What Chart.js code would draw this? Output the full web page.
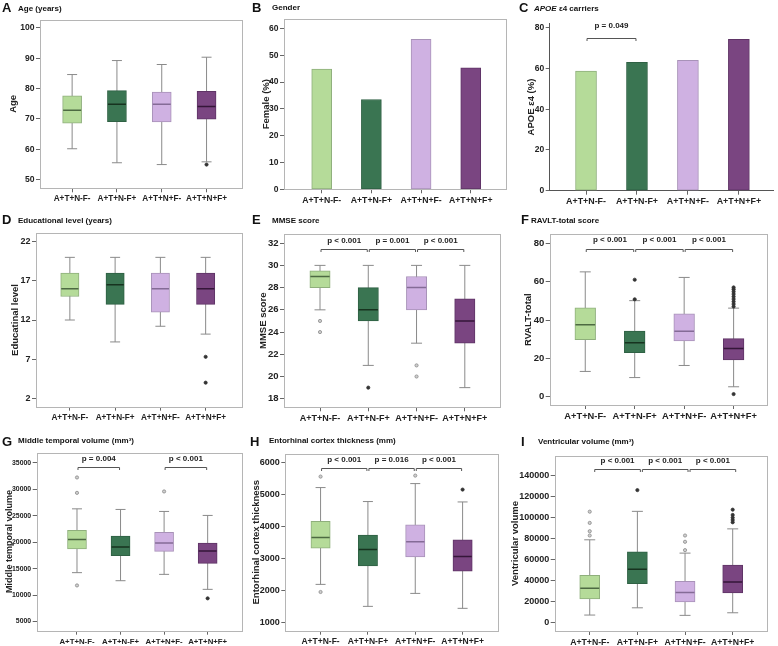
<!DOCTYPE html>
<html><head><meta charset="utf-8">
<script src="https://cdn.jsdelivr.net/npm/chart.js@4.4.1/dist/chart.umd.min.js"></script>
<style>
html,body{margin:0;padding:0;background:#fff;}
body{width:778px;height:646px;position:relative;overflow:hidden;font-family:"Liberation Sans",Arial,Helvetica,sans-serif;}
canvas{position:absolute;}
.hd{position:absolute;font-weight:bold;color:#111;white-space:nowrap;z-index:2;}
.lt{font-size:13px;line-height:13px;}
.tt{font-size:8px;line-height:8px;}
</style></head><body>
<div class="hd lt" style="left:2px;top:1px">A</div><div class="hd tt" style="left:18px;top:5px">Age (years)</div>
<div class="hd lt" style="left:252px;top:1px">B</div><div class="hd tt" style="left:272px;top:4px">Gender</div>
<div class="hd lt" style="left:519px;top:1px">C</div><div class="hd tt" style="left:534px;top:5px"><i>APOE</i> ε4 carriers</div>
<div class="hd lt" style="left:2px;top:213px">D</div><div class="hd tt" style="left:18px;top:217px">Educational level (years)</div>
<div class="hd lt" style="left:252px;top:213px">E</div><div class="hd tt" style="left:272px;top:217px">MMSE score</div>
<div class="hd lt" style="left:521px;top:213px">F</div><div class="hd tt" style="left:531px;top:217px">RAVLT-total score</div>
<div class="hd lt" style="left:2px;top:435px">G</div><div class="hd tt" style="left:18px;top:437px">Middle temporal volume (mm³)</div>
<div class="hd lt" style="left:250px;top:435px">H</div><div class="hd tt" style="left:269px;top:437px">Entorhinal cortex thickness (mm)</div>
<div class="hd lt" style="left:521px;top:435px">I</div><div class="hd tt" style="left:538px;top:438px">Ventricular volume (mm³)</div>
<script>
// ---------- data ----------
const categories = ['A+T+N-F-', 'A+T+N-F+', 'A+T+N+F-', 'A+T+N+F+'];

// A: Age
const ageTicks = [50, 60, 70, 80, 90, 100];
const ageLow  = [60.2, 55.6, 55.0, 55.9];
const ageQ1   = [68.6, 69.1, 69.0, 69.9];
const ageMed  = [72.9, 74.8, 74.8, 74.1];
const ageQ3   = [77.6, 79.3, 78.8, 79.1];
const ageHigh = [84.6, 89.2, 87.9, 90.3];
const ageOut  = [[], [], [], [55.0]];

// B: Gender
const femaleTicks = [0, 10, 20, 30, 40, 50, 60];
const femalePct = [44.8, 33.5, 55.9, 45.3];

// C: APOE e4 carriers
const apoeTicks = [0, 20, 40, 60, 80];
const apoePct = [58.7, 63.0, 64.0, 74.3];
const apoeTests = [[1, 2, 'p = 0.049']];

// D: Education
const eduTicks = [2, 7, 12, 17, 22];
const eduLow  = [12, 9.2, 11.2, 10.2];
const eduQ1   = [15, 14, 13, 14];
const eduMed  = [16, 16.5, 16, 16];
const eduQ3   = [18, 18, 18, 18];
const eduHigh = [20, 20, 20, 20];
const eduOut  = [[], [], [], [7.3, 4.0]];

// E: MMSE
const mmseTicks = [18, 20, 22, 24, 26, 28, 30, 32];
const mmseLow  = [26, 21, 23, 19];
const mmseQ1   = [28, 25, 26, 23];
const mmseMed  = [29, 26, 28, 25];
const mmseQ3   = [29.5, 28, 29, 27];
const mmseHigh = [30, 30, 30, 30];
const mmseOut  = [[25, 24], [19], [21, 20], []];
const mmseTests = [[1, 2, 'p < 0.001'], [2, 3, 'p = 0.001'], [3, 4, 'p < 0.001']];

// F: RAVLT
const ravltTicks = [0, 20, 40, 60, 80];
const ravltLow  = [13.2, 10.0, 16.3, 5.2];
const ravltQ1   = [29.7, 23.0, 29.1, 19.2];
const ravltMed  = [37.5, 28.2, 34.2, 25.1];
const ravltQ3   = [46.3, 34.2, 43.2, 30.3];
const ravltHigh = [65.1, 50.1, 62.2, 46.2];
const ravltOut  = [[], [61, 50.8], [], [1.4, 47, 48.3, 49.6, 50.9, 52.2, 53.5, 54.8, 56, 57]];
const ravltTests = [[1, 2, 'p < 0.001'], [2, 3, 'p < 0.001'], [3, 4, 'p < 0.001']];

// G: Middle temporal volume
const mtTicks = [5000, 10000, 15000, 20000, 25000, 30000, 35000];
const mtLow  = [14240, 12715, 13915, 11082];
const mtQ1   = [18752, 17430, 18261, 15994];
const mtMed  = [20528, 19074, 19829, 18318];
const mtQ3   = [22228, 21152, 21850, 19829];
const mtHigh = [26310, 26196, 25818, 25062];
const mtOut  = [[32242, 29332, 11823], [], [29597], [9381]];
const mtTests = [[1, 2, 'p = 0.004'], [3, 4, 'p < 0.001']];

// H: Entorhinal cortex thickness
const ecTicks = [1000, 2000, 3000, 4000, 5000, 6000];
const ecLow  = [2188, 1500, 1906, 1438];
const ecQ1   = [3322, 2769, 3050, 2603];
const ecMed  = [3656, 3281, 3519, 3063];
const ecQ3   = [4166, 3728, 4050, 3581];
const ecHigh = [5219, 4781, 5344, 4769];
const ecOut  = [[5563, 1950], [], [5594], [5156]];
const ecTests = [[1, 2, 'p < 0.001'], [2, 3, 'p = 0.016'], [3, 4, 'p < 0.001']];

// I: Ventricular volume
const vvTicks = [0, 20000, 40000, 60000, 80000, 100000, 120000, 140000];
const vvLow  = [6970, 13910, 6680, 9150];
const vvQ1   = [22460, 37090, 19610, 28160];
const vvMed  = [32625, 50680, 28540, 38610];
const vvQ3   = [44980, 67500, 39280, 54770];
const vvHigh = [78900, 106100, 66170, 89350];
const vvOut  = [[105790, 95050, 87100, 83000], [126400], [83000, 77000, 69020], [107700, 102650, 100100, 97900, 95630]];
const vvTests = [[1, 2, 'p < 0.001'], [2, 3, 'p < 0.001'], [3, 4, 'p < 0.001']];

// ---------- styles ----------
const groupFill   = ['#b5db99', '#3a7552', '#cfb1e2', '#7a4581'];
const groupBorder = ['#8faf7c', '#2f6144', '#a892b8', '#5f3466'];
const medianColor = ['#4d6a42', '#17331f', '#846b96', '#351639'];
const outFill     = ['#cfcfcf', '#333333', '#cfcfcf', '#333333'];
const outBorder   = ['#8a8a8a', '#333333', '#8a8a8a', '#333333'];
const whiskerColor = '#8a8a8a';
const frameColor = '#b5b5b5';
const tickColor = '#666';
const FONT = '"Liberation Sans", Arial, Helvetica, sans-serif';

Chart.defaults.font.family = FONT;
Chart.defaults.font.weight = 'bold';
Chart.defaults.color = '#222';

function framePlugin(show) {
  return { id: 'frame', beforeDatasetsDraw(chart) {
    if (!show) return;
    const a = chart.chartArea, ctx = chart.ctx;
    ctx.save(); ctx.strokeStyle = frameColor; ctx.lineWidth = 1;
    const l = Math.round(a.left) + 0.5, t = Math.round(a.top) + 0.5;
    ctx.strokeRect(l, t, Math.round(a.right) - Math.round(a.left), Math.round(a.bottom) - Math.round(a.top));
    ctx.restore();
  }};
}
function bracketPlugin(br) {
  return { id: 'brackets', afterDatasetsDraw(chart) {
    if (!br) return;
    const xs = chart.scales.x, ys = chart.scales.y, ctx = chart.ctx;
    const py = Math.round(ys.getPixelForValue(br.level)) + 0.5;
    ctx.save();
    ctx.strokeStyle = '#555'; ctx.lineWidth = 1; ctx.fillStyle = '#222';
    ctx.font = 'bold 8px ' + FONT; ctx.textAlign = 'center'; ctx.textBaseline = 'middle';
    br.tests.forEach(([a, b, label]) => {
      const x1 = xs.getPixelForValue(a) + 1 + (br.shift || 0);
      const x2 = xs.getPixelForValue(b) - 1 + (br.shift || 0);
      ctx.beginPath();
      ctx.moveTo(x1, py + 2.5); ctx.lineTo(x1, py); ctx.lineTo(x2, py); ctx.lineTo(x2, py + 2.5);
      ctx.stroke();
      ctx.fillText(label, (x1 + x2) / 2, py - br.textOffset);
    });
    ctx.restore();
  }};
}

function boxDatasets(b, bw, cap) {
  const [low, q1, med, q3, high, out] = b;
  const whisk = [], caps = [], outs = [];
  low.forEach((v, i) => {
    whisk.push({x: i + 1, y: v}, {x: i + 1, y: high[i]}, {x: i + 1, y: null});
    caps.push({x: i + 1, y: v}, {x: i + 1, y: high[i]});
  });
  out.forEach((arr, i) => arr.forEach(v => outs.push({x: i + 1, y: v})));
  return [
    {type: 'line', data: whisk, borderColor: whiskerColor, borderWidth: 1, pointRadius: 0, spanGaps: false, order: 4},
    {type: 'scatter', data: caps, pointStyle: 'line', pointRadius: cap, pointBorderColor: whiskerColor, pointBorderWidth: 1, order: 3},
    {type: 'bar', data: q1.map((v, i) => ({x: i + 1, y: [v, q3[i]]})), backgroundColor: groupFill, borderColor: groupBorder,
      borderWidth: 1, barThickness: bw, borderSkipped: false, grouped: false, order: 2},
    {type: 'scatter', data: med.map((v, i) => ({x: i + 1, y: v})), pointStyle: 'line', pointRadius: bw / 2 - 0.5,
      pointBorderColor: medianColor, pointBorderWidth: 1.5, order: 1},
    {type: 'scatter', data: outs, pointStyle: 'circle', pointRadius: 1.6,
      pointBackgroundColor: outs.map(o => outFill[o.x - 1]), pointBorderColor: outs.map(o => outBorder[o.x - 1]),
      pointBorderWidth: 0.8, order: 0}
  ];
}
function barDatasets(vals, bw) {
  return [{type: 'bar', data: vals.map((v, i) => ({x: i + 1, y: v})), backgroundColor: groupFill, borderColor: groupBorder,
    borderWidth: 1, barThickness: bw, borderSkipped: false}];
}

const panels = [
  {titleX: 13, L: 40, T: 19, R: 247, B: 188.3, yMin: 47.2, yMax: 102.7, xMin: 0.283, xMax: 4.78, yTicks: ageTicks, yTitle: 'Age',
   datasets: boxDatasets([ageLow, ageQ1, ageMed, ageQ3, ageHigh, ageOut], 19, 5), yFont: 8.6, xFont: 8.2, framed: true},
  {titleX: 266, L: 284, T: 19, R: 506, B: 189.3, yMin: 0, yMax: 63.5, xMin: 0.241, xMax: 4.71, yTicks: femaleTicks, yTitle: 'Female (%)',
   datasets: barDatasets(femalePct, 20), yFont: 8.5, xFont: 8.7, framed: true},
  {titleX: 531, L: 549.7, T: 23.3, R: 773, B: 190.7, yMin: 0, yMax: 82.2, xMin: 0.287, xMax: 4.67, yTicks: apoeTicks, yTitle: 'APOE ε4 (%)',
   datasets: barDatasets(apoePct, 21), yFont: 8.5, xFont: 8.9, framed: false,
   brackets: {tests: apoeTests, level: 75.1, textOffset: 13}},
  {titleX: 15, L: 36, T: 233.3, R: 247, B: 406.7, yMin: 0.93, yMax: 23.07, xMin: 0.252, xMax: 4.80, yTicks: eduTicks, yTitle: 'Educatinal level',
   datasets: boxDatasets([eduLow, eduQ1, eduMed, eduQ3, eduHigh, eduOut], 18.3, 5), yFont: 9, xFont: 8.2, framed: true},
  {titleX: 263, L: 284, T: 233.3, R: 505.7, B: 407.3, yMin: 17.23, yMax: 32.81, xMin: 0.254, xMax: 4.726, yTicks: mmseTicks, yTitle: 'MMSE score',
   datasets: boxDatasets([mmseLow, mmseQ1, mmseMed, mmseQ3, mmseHigh, mmseOut], 20.3, 5.5), yFont: 9.5, xFont: 9, framed: true,
   brackets: {tests: mmseTests, level: 31.46, textOffset: 9}},
  {titleX: 528, L: 549.7, T: 233.3, R: 773, B: 405, yMin: -4.3, yMax: 84.66, xMin: 0.281, xMax: 4.668, yTicks: ravltTicks, yTitle: 'RVALT-total',
   datasets: boxDatasets([ravltLow, ravltQ1, ravltMed, ravltQ3, ravltHigh, ravltOut], 20.7, 5.5), yFont: 9.5, xFont: 9.3, framed: true,
   brackets: {tests: ravltTests, level: 76.9, textOffset: 10}},
  {titleX: 10, L: 36.7, T: 452.3, R: 246.7, B: 630.7, yMin: 3262, yMax: 36965, xMin: 0.075, xMax: 4.777, yTicks: mtTicks, yTitle: 'Middle temporal volume',
   datasets: boxDatasets([mtLow, mtQ1, mtMed, mtQ3, mtHigh, mtOut], 19, 5), yFont: 6.9, xFont: 7.8, framed: true, titleSize: 9,
   brackets: {tests: mtTests, level: 34130, textOffset: 9}},
  {titleX: 256, L: 285.3, T: 453.3, R: 504, B: 630.7, yMin: 738, yMax: 6281, xMin: 0.255, xMax: 4.755, yTicks: ecTicks, yTitle: 'Entorhinal cortex thickness',
   datasets: boxDatasets([ecLow, ecQ1, ecMed, ecQ3, ecHigh, ecOut], 19.3, 5), yFont: 9, xFont: 8.5, framed: true,
   brackets: {tests: ecTests, level: 5844, textOffset: 8.5}},
  {titleX: 515, L: 554.7, T: 455, R: 773, B: 631, yMin: -8267, yMax: 159000, xMin: 0.265, xMax: 4.72, yTicks: vvTicks, yTitle: 'Ventricular volume',
   datasets: boxDatasets([vvLow, vvQ1, vvMed, vvQ3, vvHigh, vvOut], 20, 5.5), yFont: 9, xFont: 8.7, framed: true,
   brackets: {tests: vvTests, level: 146370, textOffset: 8.5, shift: 4}}
];

const X_H = 20;
panels.forEach(p => {
  const titleSize = p.titleSize || 9.5;
  const cl = p.titleX - 8;
  const ct = Math.round(p.T) - 10;
  const cw = Math.ceil(p.R + 5 - cl);
  const ch = Math.ceil(p.B + X_H + 2 - ct);
  const cv = document.createElement('canvas');
  cv.width = cw; cv.height = ch;
  cv.style.left = cl + 'px'; cv.style.top = ct + 'px';
  cv.style.width = cw + 'px'; cv.style.height = ch + 'px';
  document.body.appendChild(cv);
  const pad = {left: 0, top: p.T - ct, right: cl + cw - p.R, bottom: ct + ch - p.B - X_H};
  const yW = p.L - cl;
  const axisBorder = {display: !p.framed, color: '#555', width: 1};
  new Chart(cv.getContext('2d'), {
    type: 'bar',
    data: {datasets: p.datasets},
    options: {
      responsive: false, animation: false, events: [],
      layout: {padding: pad},
      plugins: {legend: {display: false}, tooltip: {enabled: false}},
      scales: {
        x: {
          type: 'linear', min: p.xMin, max: p.xMax, offset: false,
          afterBuildTicks: s => { s.ticks = categories.map((c, i) => ({value: i + 1})); },
          afterFit: s => { s.height = X_H; },
          ticks: {callback: v => categories[v - 1], font: {size: p.xFont, weight: 'bold'}, color: '#222', padding: 2,
                  maxRotation: 0, minRotation: 0, autoSkip: false},
          grid: {drawOnChartArea: false, offset: false, tickLength: 4, color: tickColor, tickColor: tickColor},
          border: axisBorder
        },
        y: {
          type: 'linear', min: p.yMin, max: p.yMax, beginAtZero: false,
          afterBuildTicks: s => { s.ticks = p.yTicks.map(v => ({value: v})); },
          afterFit: s => { s.width = yW; },
          ticks: {callback: v => String(v), font: {size: p.yFont, weight: 'bold'}, color: '#222', padding: 1.5, autoSkip: false},
          grid: {drawOnChartArea: false, tickLength: 4, color: tickColor, tickColor: tickColor},
          border: axisBorder,
          title: {display: true, text: p.yTitle, font: {size: titleSize, weight: 'bold'}, color: '#222',
                  padding: {top: 8 - titleSize * 0.6, bottom: 0}}
        }
      }
    },
    plugins: [framePlugin(p.framed), bracketPlugin(p.brackets)]
  });
});
</script>
</body></html>
